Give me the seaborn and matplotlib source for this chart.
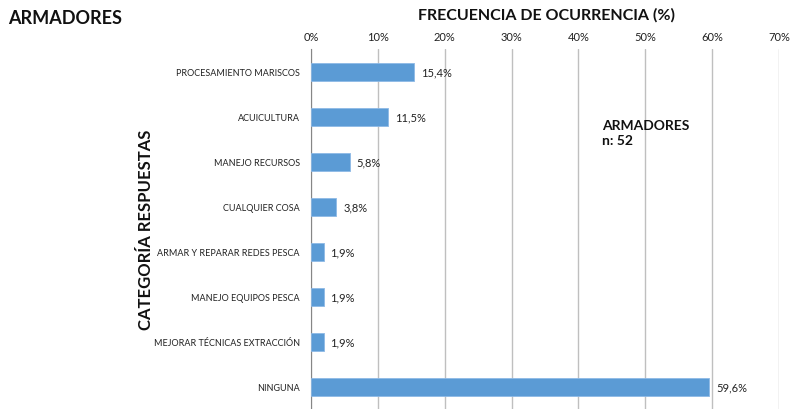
import matplotlib
matplotlib.use("Agg")
import matplotlib.pyplot as plt
import seaborn as sns
import pandas as pd
import numpy as np

categories = ["PROCESAMIENTO MARISCOS", "ACUICULTURA", "MANEJO RECURSOS", "CUALQUIER COSA",
              "ARMAR Y REPARAR REDES PESCA", "MANEJO EQUIPOS PESCA",
              "MEJORAR TÉCNICAS EXTRACCIÓN", "NINGUNA"]
values = [15.4, 11.5, 5.8, 3.8, 1.9, 1.9, 1.9, 59.6]
xticks = [0, 10, 20, 30, 40, 50, 60, 70]

sns.set_style("white")
plt.rcParams['font.family'] = ['Lato', 'DejaVu Sans']

df = pd.DataFrame({"cat": categories, "val": values})
fig = plt.figure(figsize=(7.9, 4.1), dpi=100)
ax = fig.add_axes([311/790, 0.0, 468/790, 360/410])
sns.barplot(data=df, y="cat", x="val", orient="h", color="#5B9BD5", width=0.4,
            saturation=1, edgecolor="#8DB9E6", linewidth=0.6, ax=ax, zorder=3)
ax.set_xlim(0, 70)
ax.set_ylim(len(categories) - 0.5, -0.5)
ax.xaxis.tick_top()
ax.set_xticks(xticks)
ax.set_xticklabels([f"{t}%" for t in xticks], fontsize=8, color="#222222")
ax.tick_params(axis='x', length=0, pad=5)
ax.grid(axis='x', color="#BFBFBF", linewidth=1, zorder=0)
ax.tick_params(axis='y', length=0, labelsize=6.5, labelcolor="#222222", pad=8)
ax.set_yticks(np.arange(len(categories)) - 0.5, minor=True)
ax.tick_params(axis='y', which='minor', length=4, color="#BFBFBF", width=1, direction='out')
for s in ["top", "right", "bottom"]:
    ax.spines[s].set_visible(False)
ax.spines["left"].set_color("#868686")
ax.set_xlabel("")
ax.set_ylabel("")

for i, v in enumerate(values):
    ax.text(v + 1.0, i, f"{v:.1f}".replace(".", ",") + "%", va="center", ha="left",
            fontsize=8, color="#222222")

ax.text(43.5, 1.05, "ARMADORES\nn: 52", fontsize=10, fontweight="bold",
        va="top", ha="left", linespacing=1.35, color="#111111")

fig.text(8/790, 1 - 18/410, "ARMADORES", fontsize=13, fontweight="bold",
         va="center", ha="left", color="#111111")
fig.text(546/790, 1 - 15/410, "FRECUENCIA DE OCURRENCIA (%)", fontsize=11.5,
         fontweight="bold", va="center", ha="center", color="#111111")
fig.text(146/790, 1 - 230/410, "CATEGORÍA RESPUESTAS", fontsize=12,
         fontweight="bold", va="center", ha="center", rotation=90, color="#111111")

fig.savefig("out.png", dpi=100)
